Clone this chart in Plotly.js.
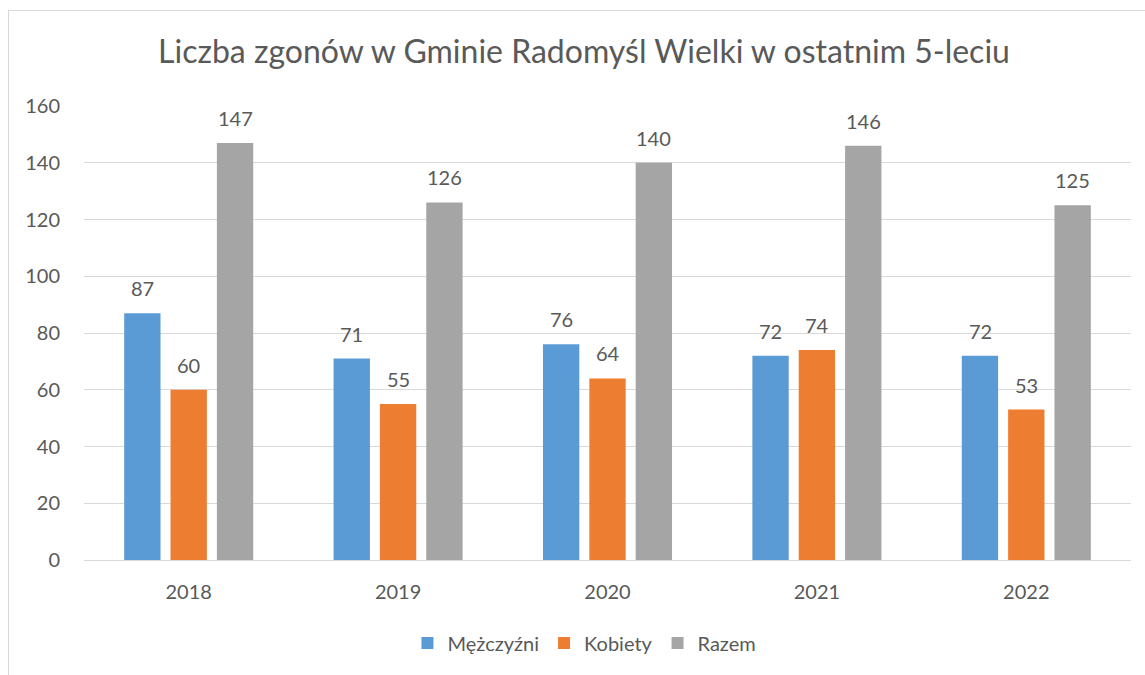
<!DOCTYPE html>
<html>
<head>
<meta charset="utf-8">
<script src="https://cdn.plot.ly/plotly-3.0.1.min.js"></script>
<style>
  html, body { margin: 0; padding: 0; background: #fff; }
  #wrap { position: relative; width: 1145px; height: 675px; overflow: hidden; }
  #frame { position: absolute; left: 8px; top: 10px; width: 1200px; height: 700px;
           border-left: 1px solid #d9d9d9; border-top: 1px solid #d9d9d9; box-sizing: border-box; pointer-events: none; }
  #chart { position: absolute; left: 0; top: 0; width: 1145px; height: 675px; }
</style>
</head>
<body>
<div id="wrap">
  <div id="chart"></div>
  <div id="frame"></div>
</div>
<script>
const years = ['2018', '2019', '2020', '2021', '2022'];
const men = [87, 71, 76, 72, 72];
const women = [60, 55, 64, 74, 53];
const total = [147, 126, 140, 146, 125];
const seriesNames = ['Mężczyźni', 'Kobiety', 'Razem'];
const seriesColors = ['#5B9BD5', '#ED7D31', '#A5A5A5'];
const seriesValues = [men, women, total];

const FONT = 'Lato, "Open Sans", sans-serif';
const TXT = '#595959';
const FS = 20;

const traces = seriesValues.map((vals, i) => ({
  type: 'bar',
  name: seriesNames[i],
  x: years,
  y: vals,
  marker: { color: seriesColors[i] },
  hoverinfo: 'none'
}));

const shifts = [-46.3, 0, 46.3];
const annotations = [];
seriesValues.forEach((vals, i) => {
  vals.forEach((v, j) => {
    annotations.push({
      x: j, y: v, xref: 'x', yref: 'y',
      text: String(v), showarrow: false,
      xshift: shifts[i], yshift: 25,
      xanchor: 'center', yanchor: 'middle',
      font: { family: FONT, size: FS, color: TXT }
    });
  });
});

const layout = {
  width: 1145, height: 675,
  paper_bgcolor: 'rgba(0,0,0,0)', plot_bgcolor: '#fff',
  margin: { l: 84, r: 14, t: 106, b: 115 },
  font: { family: FONT, color: TXT, size: FS },
  title: {
    text: 'Liczba zgonów w Gminie Radomyśl Wielki w ostatnim 5-leciu',
    font: { family: FONT, size: 32, color: TXT },
    x: 584 / 1145, xref: 'container', xanchor: 'center',
    y: 1 - 52 / 675, yref: 'container', yanchor: 'middle'
  },
  barmode: 'group',
  bargap: 0.336,
  bargroupgap: 0.216,
  xaxis: {
    type: 'category',
    range: [-0.5, years.length - 0.5], autorange: false,
    showgrid: false, showline: false, zeroline: false,
    ticks: '', ticklabelstandoff: 18,
    tickfont: { family: FONT, size: FS, color: TXT }
  },
  yaxis: {
    range: [0, 160], autorange: false, dtick: 20, tick0: 0,
    showgrid: true, gridcolor: '#d9d9d9', gridwidth: 1,
    zeroline: true, zerolinecolor: '#d9d9d9', zerolinewidth: 1,
    showline: false, ticks: '', ticklabelstandoff: 23,
    tickfont: { family: FONT, size: FS, color: TXT }
  },
  showlegend: true,
  legend: {
    orientation: 'h',
    x: 0.478, xanchor: 'center',
    y: -0.183, yanchor: 'middle',
    font: { family: FONT, size: FS, color: TXT },
    itemclick: false, itemdoubleclick: false
  },
  annotations: annotations
};

Plotly.newPlot('chart', traces, layout, { staticPlot: true, displayModeBar: false });
</script>
</body>
</html>
